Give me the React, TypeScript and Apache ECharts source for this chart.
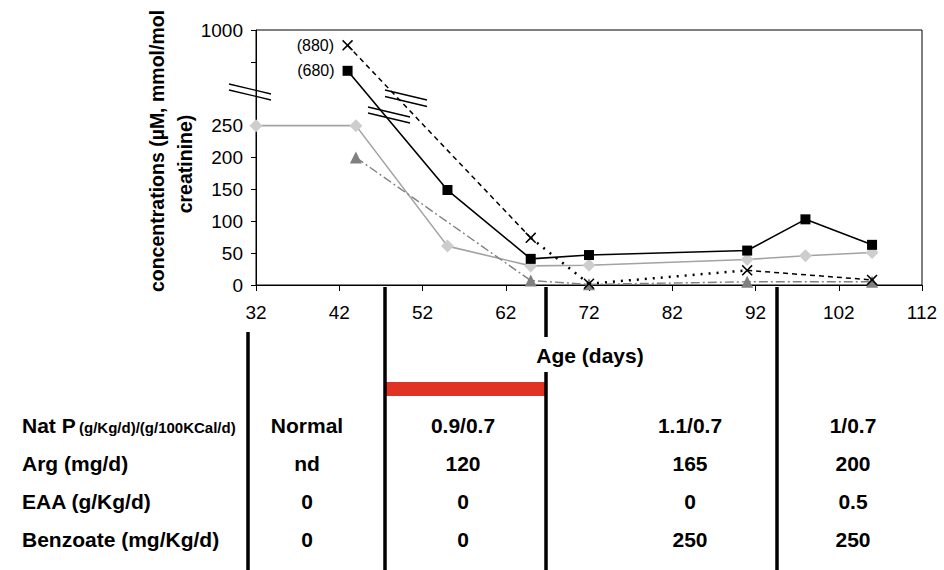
import React, { useEffect, useRef } from 'react';
import * as echarts from 'echarts';

// ---- data ----
const xTicks = [32, 42, 52, 62, 72, 82, 92, 102, 112];
const yLabelValues = [0, 50, 100, 150, 200, 250, 1000];
const yTickValues = [0, 50, 100, 150, 200, 250, 750, 1000];

const squareDays = [43, 55, 65, 72, 91, 98, 106];
const squareValues = [680, 149, 41, 47, 54, 103, 63];

const diamondDays = [32, 44, 55, 65, 72, 91, 98, 106];
const diamondValues = [250, 250, 61, 30, 31, 40, 46, 51];

const crossDays = [43, 65, 72, 91, 106];
const crossValues = [880, 74, 2, 23, 8];
const crossSegmentKinds = ['dash', 'dot', 'dot', 'dash'];

const triangleDays = [44, 65, 72, 91, 106];
const triangleValues = [200, 7, 1, 5, 5];

const rowLabels = ['Nat P', 'Arg (mg/d)', 'EAA (g/Kg/d)', 'Benzoate (mg/Kg/d)'];
const natPUnit = '(g/Kg/d)/(g/100KCal/d)';
const natPValues = ['Normal', '0.9/0.7', '1.1/0.7', '1/0.7'];
const argValues = ['nd', '120', '165', '200'];
const eaaValues = ['0', '0', '0', '0.5'];
const benzoateValues = ['0', '0', '250', '250'];
const tableRows = [natPValues, argValues, eaaValues, benzoateValues];

// ---- broken y scale ----
const BREAK_AT = 250;
const UPPER_RATIO = 0.2;
const toAxis = (v: number) => (v <= BREAK_AT ? v : BREAK_AT + (v - BREAK_AT) * UPPER_RATIO);
const fromAxis = (t: number) => (t <= BREAK_AT ? t : BREAK_AT + (t - BREAK_AT) / UPPER_RATIO);

const FONT = '"Liberation Sans", Arial, Helvetica, sans-serif';
const CROSS = 'path://M0,1 L1,0 L5,4 L9,0 L10,1 L6,5 L10,9 L9,10 L5,6 L1,10 L0,9 L4,5 Z';

// layout constants
const colCenters = [307, 463, 690, 853];
const rowY = [425, 463, 501, 539];
const TABLE_FS = 21;

export default function App() {
  const ref = useRef<HTMLDivElement>(null);

  useEffect(() => {
    if (!ref.current) return;
    const chart = echarts.init(ref.current, undefined, { renderer: 'svg' });

    const pts = (days: number[], vals: number[]) => days.map((d, i) => [d, toAxis(vals[i])]);

    const crossSeries: any[] = crossSegmentKinds.map((kind, i) => ({
      type: 'line',
      data: [
        [crossDays[i], toAxis(crossValues[i])],
        [crossDays[i + 1], toAxis(crossValues[i + 1])],
      ],
      showSymbol: false,
      symbol: 'none',
      lineStyle:
        kind === 'dash'
          ? { color: '#000', width: 1.5, type: [5, 4] }
          : { color: '#000', width: 2.5, type: [2, 6] },
      z: 3,
    }));

    const pointLabel = (txt: string) => ({
      show: true,
      position: 'left',
      distance: 8,
      formatter: txt,
      fontSize: 16,
      color: '#000',
      fontFamily: FONT,
    });

    const option: any = {
      animation: false,
      grid: { left: 256, right: 22, top: 30, bottom: 285, show: true, borderColor: '#000', borderWidth: 1 },
      xAxis: {
        type: 'value',
        min: 32,
        max: 112,
        interval: 10,
        axisLine: { lineStyle: { color: '#000', width: 1 } },
        axisTick: { show: true, length: 6, lineStyle: { color: '#000' }, customValues: xTicks },
        axisLabel: { margin: 18, fontSize: 19, color: '#000', fontFamily: FONT, customValues: xTicks },
        splitLine: { show: false },
      },
      yAxis: {
        type: 'value',
        min: 0,
        max: toAxis(1000),
        axisLine: { show: true, lineStyle: { color: '#000', width: 1 } },
        axisTick: { show: true, length: 5, lineStyle: { color: '#000' }, customValues: yTickValues.map(toAxis) },
        axisLabel: {
          margin: 13,
          fontSize: 19,
          color: '#000',
          fontFamily: FONT,
          customValues: yLabelValues.map(toAxis),
          formatter: (v: number) => String(Math.round(fromAxis(v))),
        },
        splitLine: { show: false },
      },
      series: [
        {
          type: 'line',
          data: pts(diamondDays, diamondValues),
          symbol: 'diamond',
          symbolSize: 13,
          itemStyle: { color: '#cdcdcd' },
          lineStyle: { color: '#a3a3a3', width: 1.6 },
          z: 2,
        },
        {
          type: 'line',
          data: pts(triangleDays, triangleValues),
          symbol: 'triangle',
          symbolSize: 12,
          itemStyle: { color: '#808080' },
          lineStyle: { color: '#808080', width: 1.4, type: [9, 3, 2, 3] },
          z: 2,
        },
        ...crossSeries,
        {
          type: 'scatter',
          data: pts(crossDays, crossValues).map((p, i) =>
            i === 0 ? { value: p, label: pointLabel(`(${crossValues[0]})`) } : p
          ),
          symbol: CROSS,
          symbolSize: 11,
          itemStyle: { color: '#000', opacity: 1 },
          z: 4,
        },
        {
          type: 'line',
          data: pts(squareDays, squareValues).map((p, i) =>
            i === 0 ? { value: p, label: pointLabel(`(${squareValues[0]})`) } : p
          ),
          symbol: 'rect',
          symbolSize: 10,
          itemStyle: { color: '#000' },
          lineStyle: { color: '#000', width: 1.6 },
          z: 5,
        },
      ],
      graphic: [] as any[],
    };

    const g: any[] = option.graphic;
    // axis break marks
    const breakPair = (x1: number, y1: number, x2: number, y2: number, dy: number) => {
      g.push({ type: 'line', shape: { x1, y1, x2, y2 }, style: { stroke: '#000', lineWidth: 1.3 }, z: 10 });
      g.push({ type: 'line', shape: { x1, y1: y1 + dy, x2, y2: y2 + dy }, style: { stroke: '#000', lineWidth: 1.3 }, z: 10 });
    };
    breakPair(229, 84, 271, 94, 6);
    breakPair(368, 107, 410, 117, 6);
    breakPair(385, 90, 427, 100, 6.5);

    // y title
    const titleStyle = { fontSize: 19.5, fontWeight: 'bold', fontFamily: FONT, fill: '#000', align: 'center', verticalAlign: 'middle' };
    g.push({ type: 'text', x: 157, y: 151, rotation: Math.PI / 2, style: { ...titleStyle, text: 'concentrations (µM, mmol/mol' } });
    g.push({ type: 'text', x: 185, y: 164, rotation: Math.PI / 2, style: { ...titleStyle, text: 'creatinine)' } });
    // x title
    g.push({
      type: 'text',
      x: 590,
      y: 355,
      style: { text: 'Age (days)', fontSize: TABLE_FS, fontWeight: 'bold', fontFamily: FONT, fill: '#000', align: 'center', verticalAlign: 'middle' },
    });

    // red bar
    g.push({ type: 'rect', shape: { x: 385, y: 382, width: 162, height: 14 }, style: { fill: '#e03324' } });

    // vertical separators
    const vline = (x: number, y1: number, y2: number) =>
      g.push({ type: 'line', shape: { x1: x, y1, x2: x, y2 }, style: { stroke: '#000', lineWidth: 3.5 }, z: 5 });
    vline(248, 332, 570);
    vline(385, 287, 570);
    vline(546, 287, 337);
    vline(546, 372, 570);
    vline(777, 287, 570);

    // table
    const cell = { fontSize: TABLE_FS, fontWeight: 'bold', fontFamily: FONT, fill: '#000', verticalAlign: 'middle' };
    rowLabels.forEach((label, r) => {
      if (r === 0) {
        g.push({
          type: 'text',
          x: 22,
          y: rowY[r],
          style: {
            text: `{a|${label}} {b|${natPUnit}}`,
            rich: {
              a: { fontSize: TABLE_FS, fontWeight: 'bold', fontFamily: FONT, fill: '#000' },
              b: { fontSize: 15, fontWeight: 'bold', fontFamily: FONT, fill: '#000', padding: [4, 0, 0, 0] },
            },
            align: 'left',
            verticalAlign: 'middle',
          },
        });
      } else {
        g.push({ type: 'text', x: 22, y: rowY[r], style: { ...cell, text: label, align: 'left' } });
      }
      tableRows[r].forEach((val, c) => {
        g.push({ type: 'text', x: colCenters[c], y: rowY[r], style: { ...cell, text: val, align: 'center' } });
      });
    });

    chart.setOption(option);
    return () => chart.dispose();
  }, []);

  return (
    <div
      ref={ref}
      style={{ position: 'fixed', left: 0, top: 0, width: 944, height: 570, background: '#fff' }}
    />
  );
}
